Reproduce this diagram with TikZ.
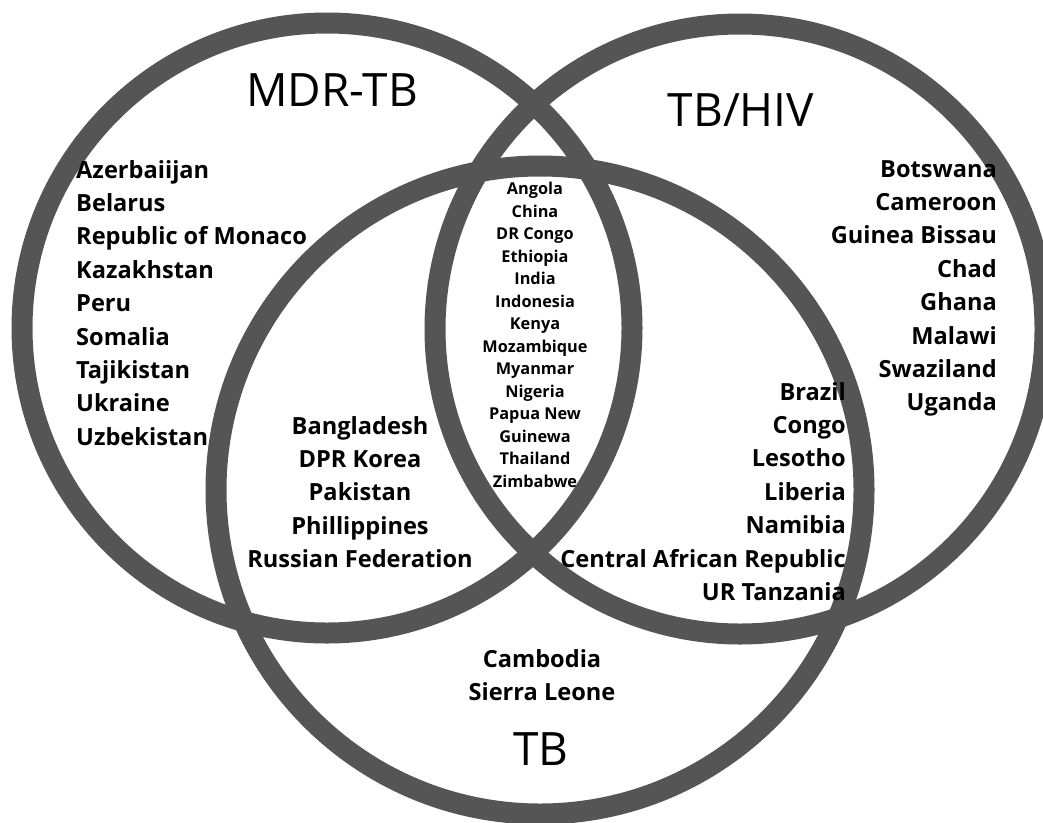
\documentclass[tikz,border=0pt]{standalone}
\usepackage{fontspec}
\setmainfont{Open Sans}
\usetikzlibrary{positioning}

\definecolor{ringgray}{HTML}{555555}

\begin{document}
\begin{tikzpicture}[
    x=1pt, y=-1pt,
    ring/.style={draw=ringgray, line width=21pt},
    country/.style={inner sep=0pt, font=\bfseries\fontsize{23.6}{33.4}\selectfont},
    smallcountry/.style={inner sep=0pt, font=\bfseries\fontsize{16.3}{22.5}\selectfont, align=center},
    setname/.style={inner sep=0pt, font=\fontsize{46}{50}\selectfont}
]
\useasboundingbox (0,0) rectangle (1043,822);

% the three sets
\coordinate (mdrc) at (327,328);
\coordinate (hivc) at (740,329);
\coordinate (tbc) at (540,490);
\draw[ring] (mdrc) circle (305);
\draw[ring] (hivc) circle (305);
\draw[ring] (tbc) circle (324);

% set names
\node[setname, anchor=base] (mdrname) at (332,106) {MDR-TB};
\node[setname, anchor=base] (hivname) at (741,126) {TB/HIV};
\node[setname, anchor=base] (tbname) at (541,765) {TB};

% MDR-TB only
\node[country, align=left, anchor=north west] (mdronly) at (76,160)
    {Azerbaiijan\\Belarus\\Republic of Monaco\\Kazakhstan\\Peru\\Somalia\\Tajikistan\\Ukraine\\Uzbekistan};

% TB/HIV only
\node[country, align=right, anchor=north east] (hivonly) at (997,160)
    {Botswana\\Cameroon\\Guinea Bissau\\Chad\\Ghana\\Malawi\\Swaziland\\Uganda};

% MDR-TB and TB
\node[country, align=center, anchor=north] (mdrtb) at (360,416)
    {Bangladesh\\DPR Korea\\Pakistan\\Phillippines\\Russian Federation};

% TB/HIV and TB
\node[country, align=right, anchor=north east] (hivtb) at (846,382)
    {Brazil\\Congo\\Lesotho\\Liberia\\Namibia\\Central African Republic\\UR Tanzania};

% all three
\node[smallcountry, anchor=north] (allthree) at (535,182)
    {Angola\\China\\DR Congo\\Ethiopia\\India\\Indonesia\\Kenya\\Mozambique\\Myanmar\\Nigeria\\Papua New\\Guinewa\\Thailand\\Zimbabwe};

% TB only
\node[country, align=center, anchor=north] (tbonly) at (542,649)
    {Cambodia\\Sierra Leone};

\end{tikzpicture}
\end{document}
